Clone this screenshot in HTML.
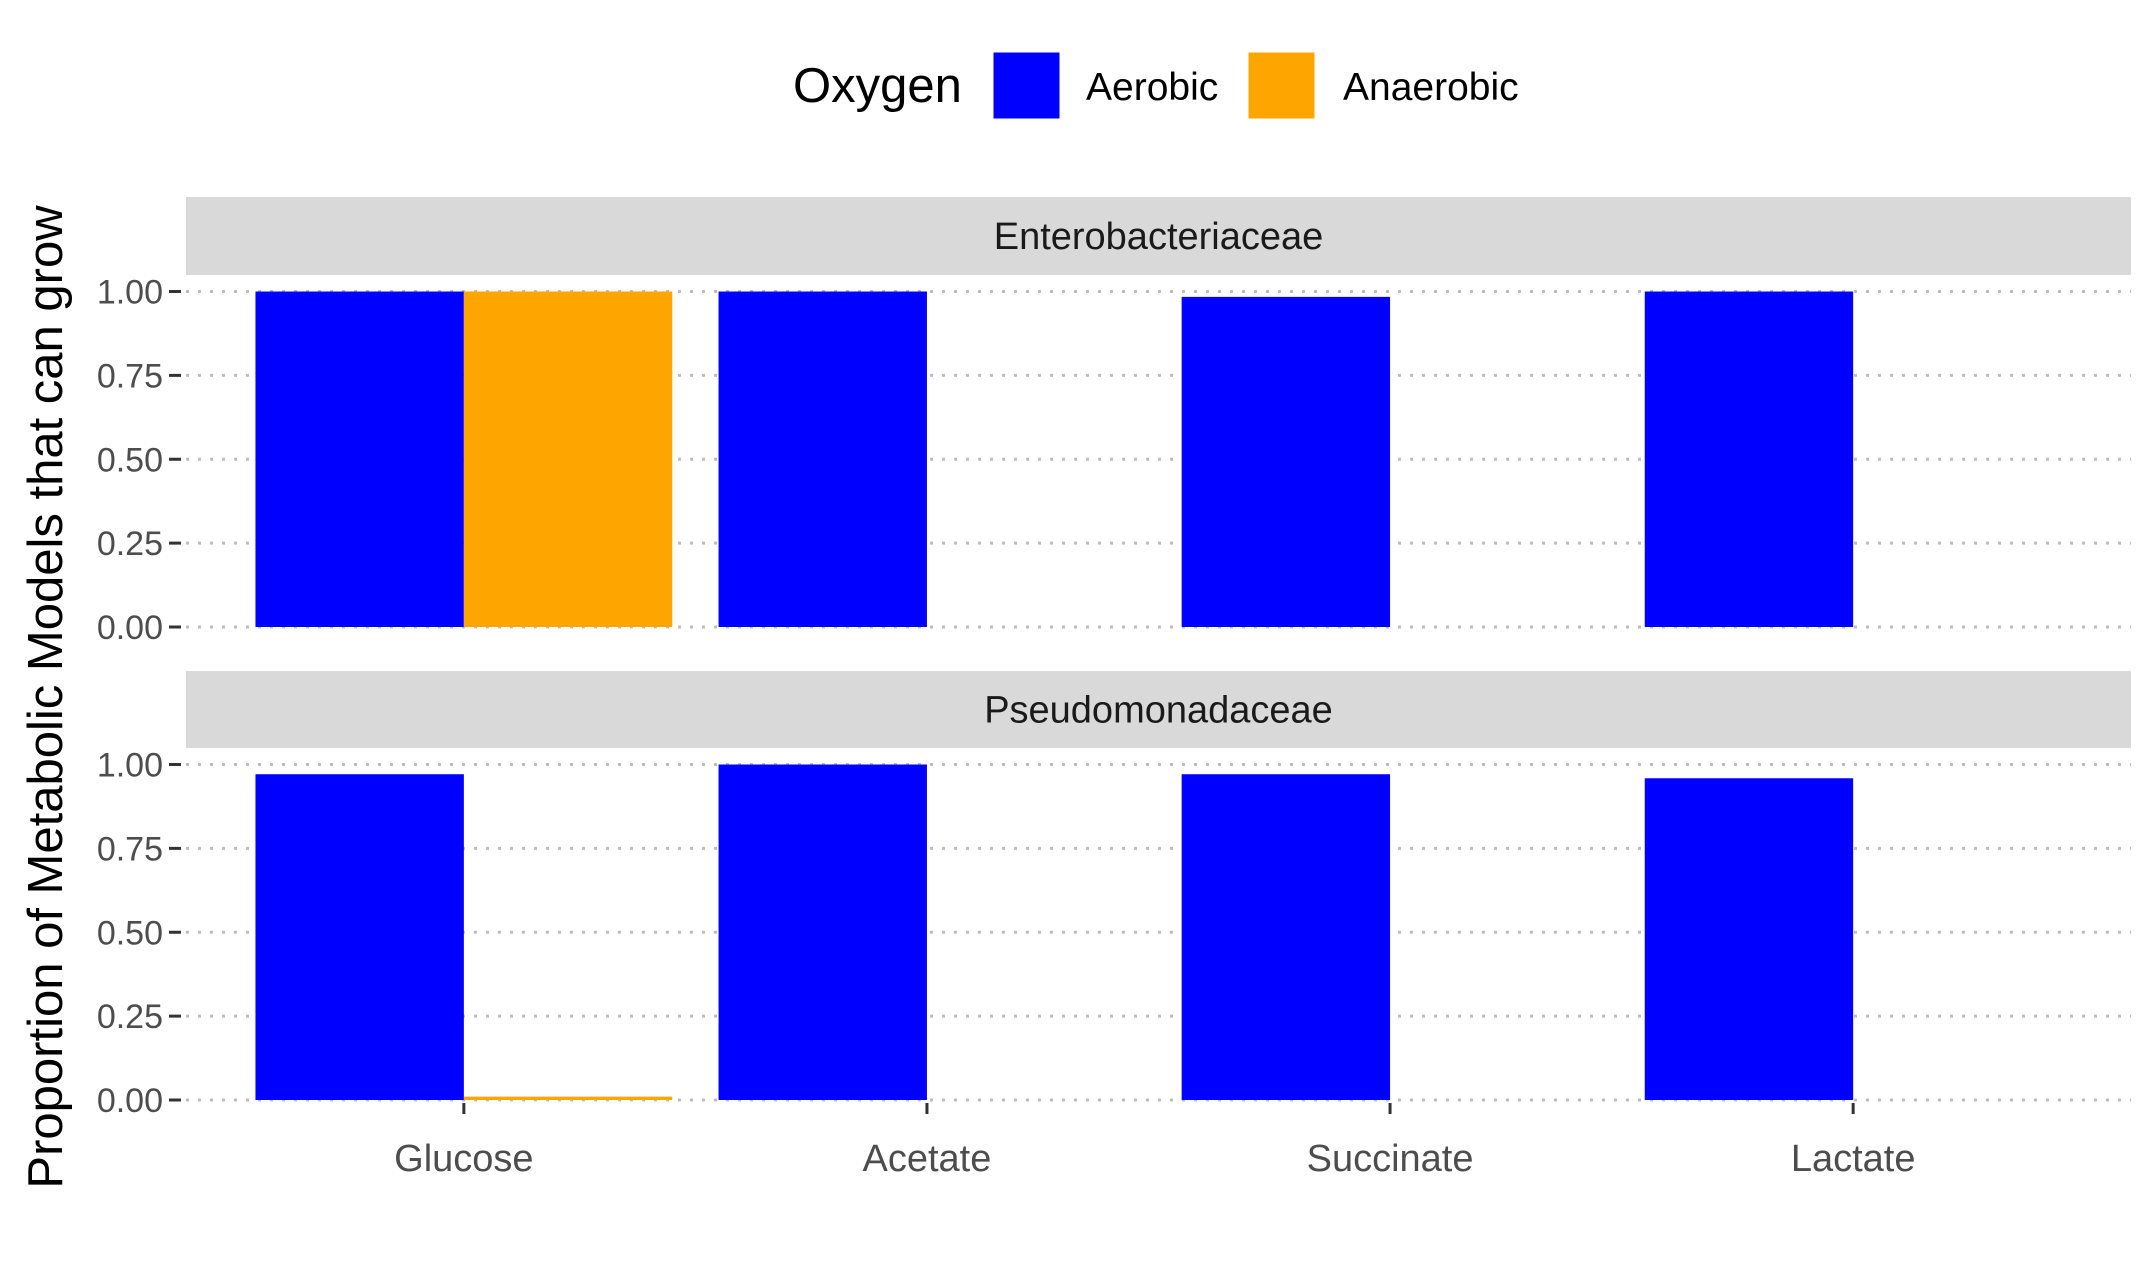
<!DOCTYPE html>
<html><head><meta charset="utf-8"><style>
html,body{margin:0;padding:0;background:#fff;}
svg{display:block;font-family:"Liberation Sans",sans-serif;}
</style></head><body>
<svg id="chart" width="2156" height="1265" viewBox="0 0 2156 1265">
<g id="legend">
 <text x="793" y="102" font-size="49" fill="#000">Oxygen</text>
 <rect x="993" y="52" width="67" height="67" fill="#0000ff" stroke="#fff"/>
 <text x="1086" y="100" font-size="39" fill="#000">Aerobic</text>
 <rect x="1248" y="52" width="67" height="67" fill="#ffa500" stroke="#fff"/>
 <text x="1343" y="100" font-size="39" fill="#000">Anaerobic</text>
</g>
<text transform="translate(62,697) rotate(-90)" text-anchor="middle" font-size="49" fill="#000">Proportion of Metabolic Models that can grow</text>
<g id="plot"></g>
</svg>
<script>
const categories = ["Glucose","Acetate","Succinate","Lactate"];
const panels = ["Enterobacteriaceae","Pseudomonadaceae"];
const aerobic = [[1.00,1.00,0.984,1.00],[0.971,1.00,0.971,0.959]];
const anaerobic = [[1.00,0,0,0],[0.01,0,0,0]];
const yTicks = [0,0.25,0.5,0.75,1];
const yTickLabels = ["0.00","0.25","0.50","0.75","1.00"];

const NS="http://www.w3.org/2000/svg";
const plot=document.getElementById('plot');
const L=186,R=2131;
const panelGeom=[{stripTop:197,stripBot:275,y1:291.5,y0:627},{stripTop:671,stripBot:748,y1:764.5,y0:1100}];
const xScale=v=>L+(v-0.4)/(4.2)*(R-L);
const bw=(xScale(1.45)-xScale(1));
function mk(tag,attrs,parent){const e=document.createElementNS(NS,tag);for(const k in attrs)e.setAttribute(k,attrs[k]);(parent||plot).appendChild(e);return e;}
panels.forEach((p,pi)=>{
 const g=panelGeom[pi];
 const ys=v=>g.y0+(g.y1-g.y0)*v;
 const strip=mk('rect',{x:L,y:g.stripTop,width:R-L,height:g.stripBot-g.stripTop,fill:'#d9d9d9'});
 
 
 const st=mk('text',{x:(L+R)/2,y:(g.stripTop+g.stripBot)/2+13,'text-anchor':'middle','font-size':'38',fill:'#1a1a1a'});
 st.textContent=p;
 
 
 yTicks.forEach((t,i)=>{
  const y=ys(t);
  const gl=mk('line',{x1:L,x2:R,y1:y,y2:y,stroke:'#bdbdbd','stroke-width':3,'stroke-dasharray':'3 9'});
  
  
  const tk=mk('line',{x1:169,x2:181,y1:y,y2:y,stroke:'#333','stroke-width':3});
  
  
  const tl=mk('text',{x:163,y:y+12,'text-anchor':'end','font-size':'34',fill:'#4d4d4d'});
  tl.textContent=yTickLabels[i];
  
  
 });
 categories.forEach((c,ci)=>{
  const cx=xScale(ci+1);
  const a=aerobic[pi][ci], n=anaerobic[pi][ci];
  const ba=mk('rect',{x:cx-bw,y:ys(a),width:bw,height:ys(0)-ys(a),fill:'#0000ff'});
  
  
  if(n>0){
   const bn=mk('rect',{x:cx,y:ys(n),width:bw,height:ys(0)-ys(n),fill:'#ffa500'});
   
   
  }
 });
});
categories.forEach((c,ci)=>{
 const cx=xScale(ci+1);
 const tk=mk('line',{x1:cx,x2:cx,y1:1103,y2:1114,stroke:'#333','stroke-width':3});
 
 
 const tl=mk('text',{x:cx,y:1171,'text-anchor':'middle','font-size':'38',fill:'#4d4d4d'});
 tl.textContent=c;
 
 
});
</script>
</body></html>
